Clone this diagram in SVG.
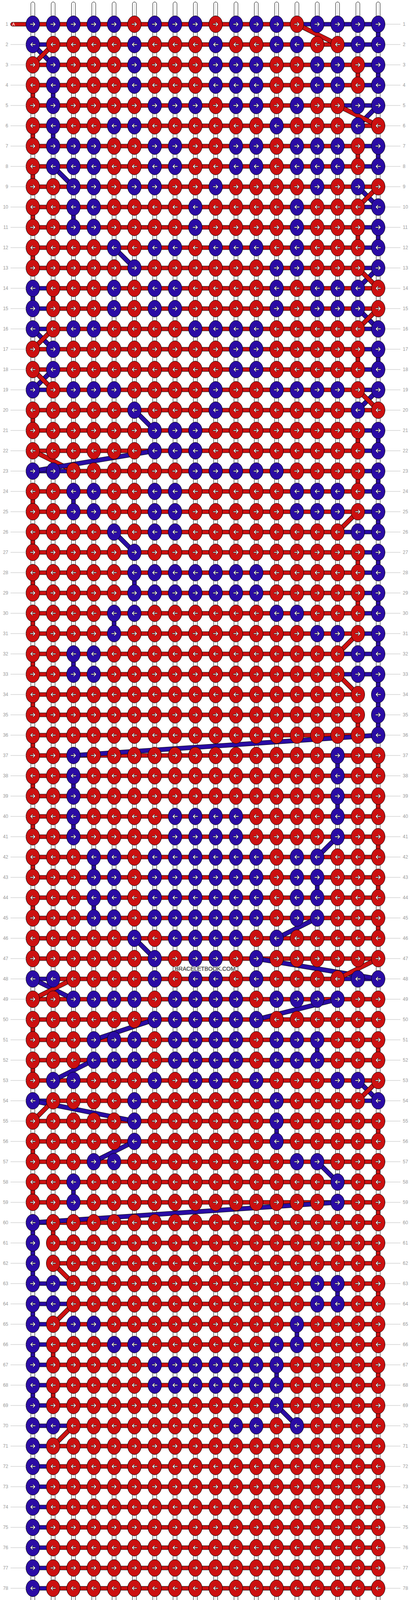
<svg xmlns="http://www.w3.org/2000/svg" width="1052" height="4960" viewBox="0 0 1052 4960">
<style>
.s{fill:#fff;stroke:#000;stroke-width:1}
.cl{fill:none;stroke:#c4c4c4;stroke-width:1}
.r{fill:#cc1010;stroke:#000;stroke-width:1}
.b{fill:#2a0ba5;stroke:#000;stroke-width:1}
.o{fill:none;stroke:#000;stroke-width:12}
.lr{fill:none;stroke:#cc1010;stroke-width:10}
.lb{fill:none;stroke:#2a0ba5;stroke-width:10}
.w{fill:#fff;stroke:#000;stroke-width:.8}
.t{font-family:"Liberation Sans",Arial,sans-serif;font-size:12px;fill:#9a9a9a}
.gl{fill:none;stroke:#bbb;stroke-width:1}
</style>
<defs>
<path id="ar" class="w" d="M-7-1.3H2.5L-.5-4.2 1.2-5.8 6.8 0 1.2 5.8-.5 4.2 2.5 1.3H-7Z"/>
<g id="a"><ellipse class="r" rx="17.5" ry="21.5"/><use href="#ar"/></g>
<g id="b"><ellipse class="b" rx="17.5" ry="21.5"/><use href="#ar"/></g>
<g id="c"><ellipse class="r" rx="17.5" ry="21.5"/><use href="#ar" transform="scale(-1,1)"/></g>
<g id="d"><ellipse class="b" rx="17.5" ry="21.5"/><use href="#ar" transform="scale(-1,1)"/></g>
</defs>
<rect width="1052" height="4960" fill="#fff"/>
<g id="strands">
<rect class="s" x="79" y="5" width="10" height="4949" rx="5"/><rect class="s" x="131" y="5" width="10" height="4949" rx="5"/><rect class="s" x="183" y="5" width="10" height="4949" rx="5"/><rect class="s" x="235" y="5" width="10" height="4949" rx="5"/><rect class="s" x="287" y="5" width="10" height="4949" rx="5"/><rect class="s" x="339" y="5" width="10" height="4949" rx="5"/><rect class="s" x="391" y="5" width="10" height="4949" rx="5"/><rect class="s" x="443" y="5" width="10" height="4949" rx="5"/><rect class="s" x="495" y="5" width="10" height="4949" rx="5"/><rect class="s" x="547" y="5" width="10" height="4949" rx="5"/><rect class="s" x="599" y="5" width="10" height="4949" rx="5"/><rect class="s" x="651" y="5" width="10" height="4949" rx="5"/><rect class="s" x="703" y="5" width="10" height="4949" rx="5"/><rect class="s" x="755" y="5" width="10" height="4949" rx="5"/><rect class="s" x="807" y="5" width="10" height="4949" rx="5"/><rect class="s" x="859" y="5" width="10" height="4949" rx="5"/><rect class="s" x="911" y="5" width="10" height="4949" rx="5"/><rect class="s" x="963" y="5" width="10" height="4949" rx="5"/>
<path class="cl" d="M84 9V4950M136 9V4950M188 9V4950M240 9V4950M292 9V4950M344 9V4950M396 9V4950M448 9V4950M500 9V4950M552 9V4950M604 9V4950M656 9V4950M708 9V4950M760 9V4950M812 9V4950M864 9V4950M916 9V4950M968 9V4950"/>
</g>
<g id="connectors">
<g class="r">
<rect x="911" y="185" width="10" height="14"/><rect x="79" y="237" width="10" height="14"/><rect x="79" y="341" width="10" height="14"/><rect x="911" y="393" width="10" height="14"/><rect x="79" y="445" width="10" height="14"/><rect x="79" y="549" width="10" height="14"/><rect x="911" y="601" width="10" height="14"/><rect x="79" y="653" width="10" height="14"/><rect x="131" y="757" width="10" height="14"/><rect x="911" y="913" width="10" height="14"/><rect x="79" y="1069" width="10" height="14"/><rect x="911" y="1121" width="10" height="14"/><rect x="911" y="1225" width="10" height="14"/><rect x="79" y="1277" width="10" height="14"/><rect x="79" y="1381" width="10" height="14"/><rect x="911" y="1433" width="10" height="14"/><rect x="79" y="1485" width="10" height="14"/><rect x="911" y="1537" width="10" height="14"/><rect x="79" y="1589" width="10" height="14"/><rect x="79" y="1693" width="10" height="14"/><rect x="79" y="1797" width="10" height="14"/><rect x="911" y="1849" width="10" height="14"/><rect x="79" y="1901" width="10" height="14"/><rect x="963" y="1953" width="10" height="14"/><rect x="79" y="2005" width="10" height="14"/><rect x="963" y="2057" width="10" height="14"/><rect x="79" y="2109" width="10" height="14"/><rect x="963" y="2161" width="10" height="14"/><rect x="79" y="2213" width="10" height="14"/><rect x="963" y="2265" width="10" height="14"/><rect x="79" y="2317" width="10" height="14"/><rect x="963" y="2369" width="10" height="14"/><rect x="79" y="2421" width="10" height="14"/><rect x="79" y="2629" width="10" height="14"/><rect x="963" y="2681" width="10" height="14"/><rect x="79" y="2733" width="10" height="14"/><rect x="963" y="2889" width="10" height="14"/><rect x="79" y="2941" width="10" height="14"/><rect x="963" y="2993" width="10" height="14"/><rect x="79" y="3045" width="10" height="14"/><rect x="963" y="3097" width="10" height="14"/><rect x="131" y="3149" width="10" height="14"/><rect x="963" y="3201" width="10" height="14"/><rect x="963" y="3305" width="10" height="14"/><rect x="963" y="3409" width="10" height="14"/><rect x="131" y="3461" width="10" height="14"/><rect x="963" y="3513" width="10" height="14"/><rect x="131" y="3565" width="10" height="14"/><rect x="963" y="3617" width="10" height="14"/><rect x="963" y="4761" width="10" height="14"/>
</g>
<g class="b">
<rect x="963" y="81" width="10" height="14"/><rect x="963" y="185" width="10" height="14"/><rect x="131" y="237" width="10" height="14"/><rect x="131" y="341" width="10" height="14"/><rect x="963" y="393" width="10" height="14"/><rect x="183" y="549" width="10" height="14"/><rect x="963" y="601" width="10" height="14"/><rect x="79" y="757" width="10" height="14"/><rect x="963" y="913" width="10" height="14"/><rect x="963" y="1121" width="10" height="14"/><rect x="963" y="1225" width="10" height="14"/><rect x="183" y="1277" width="10" height="14"/><rect x="963" y="1329" width="10" height="14"/><rect x="963" y="1433" width="10" height="14"/><rect x="339" y="1485" width="10" height="14"/><rect x="963" y="1537" width="10" height="14"/><rect x="287" y="1589" width="10" height="14"/><rect x="963" y="1641" width="10" height="14"/><rect x="183" y="1693" width="10" height="14"/><rect x="963" y="1745" width="10" height="14"/><rect x="963" y="1797" width="10" height="14"/><rect x="963" y="1849" width="10" height="14"/><rect x="859" y="1953" width="10" height="14"/><rect x="183" y="2005" width="10" height="14"/><rect x="859" y="2057" width="10" height="14"/><rect x="183" y="2109" width="10" height="14"/><rect x="235" y="2213" width="10" height="14"/><rect x="807" y="2265" width="10" height="14"/><rect x="235" y="2317" width="10" height="14"/><rect x="807" y="2681" width="10" height="14"/><rect x="703" y="2889" width="10" height="14"/><rect x="183" y="3045" width="10" height="14"/><rect x="79" y="3149" width="10" height="14"/><rect x="79" y="3201" width="10" height="14"/><rect x="79" y="3253" width="10" height="14"/><rect x="859" y="3305" width="10" height="14"/><rect x="79" y="3357" width="10" height="14"/><rect x="755" y="3409" width="10" height="14"/><rect x="79" y="3461" width="10" height="14"/><rect x="703" y="3513" width="10" height="14"/><rect x="79" y="3565" width="10" height="14"/><rect x="911" y="4761" width="10" height="14"/><rect x="79" y="4813" width="10" height="14"/><rect x="963" y="4865" width="10" height="14"/>
</g>
<g class="r">
<rect x="27" y="57" width="60" height="10" rx="5"/><rect x="27" y="4893" width="60" height="10" rx="5"/>
<rect x="84" y="57" width="676" height="10"/>
<rect x="136" y="109" width="728" height="10"/>
<rect x="84" y="161" width="832" height="10"/>
<rect x="84" y="213" width="832" height="10"/>
<rect x="84" y="265" width="780" height="10"/>
<rect x="84" y="317" width="884" height="10"/>
<rect x="84" y="369" width="832" height="10"/>
<rect x="84" y="421" width="832" height="10"/>
<rect x="84" y="473" width="884" height="10"/>
<rect x="84" y="525" width="832" height="10"/>
<rect x="84" y="577" width="832" height="10"/>
<rect x="84" y="629" width="832" height="10"/>
<rect x="84" y="681" width="832" height="10"/>
<rect x="136" y="733" width="832" height="10"/>
<rect x="136" y="785" width="832" height="10"/>
<rect x="136" y="837" width="780" height="10"/>
<rect x="84" y="889" width="832" height="10"/>
<rect x="84" y="941" width="832" height="10"/>
<rect x="136" y="993" width="780" height="10"/>
<rect x="84" y="1045" width="884" height="10"/>
<rect x="84" y="1097" width="832" height="10"/>
<rect x="84" y="1149" width="832" height="10"/>
<rect x="188" y="1201" width="728" height="10"/>
<rect x="84" y="1253" width="832" height="10"/>
<rect x="84" y="1305" width="832" height="10"/>
<rect x="84" y="1357" width="780" height="10"/>
<rect x="84" y="1409" width="832" height="10"/>
<rect x="84" y="1461" width="832" height="10"/>
<rect x="84" y="1513" width="832" height="10"/>
<rect x="84" y="1565" width="832" height="10"/>
<rect x="84" y="1617" width="832" height="10"/>
<rect x="84" y="1669" width="780" height="10"/>
<rect x="84" y="1721" width="780" height="10"/>
<rect x="84" y="1773" width="832" height="10"/>
<rect x="84" y="1825" width="832" height="10"/>
<rect x="84" y="1877" width="832" height="10"/>
<rect x="84" y="1929" width="884" height="10"/>
<rect x="84" y="1981" width="884" height="10"/>
<rect x="84" y="2033" width="884" height="10"/>
<rect x="84" y="2085" width="884" height="10"/>
<rect x="84" y="2137" width="884" height="10"/>
<rect x="84" y="2189" width="884" height="10"/>
<rect x="84" y="2241" width="884" height="10"/>
<rect x="84" y="2293" width="884" height="10"/>
<rect x="84" y="2345" width="884" height="10"/>
<rect x="84" y="2397" width="884" height="10"/>
<rect x="84" y="2449" width="884" height="10"/>
<rect x="136" y="2501" width="728" height="10"/>
<rect x="84" y="2553" width="884" height="10"/>
<rect x="84" y="2605" width="884" height="10"/>
<rect x="84" y="2657" width="884" height="10"/>
<rect x="84" y="2709" width="884" height="10"/>
<rect x="84" y="2761" width="884" height="10"/>
<rect x="136" y="2813" width="780" height="10"/>
<rect x="84" y="2865" width="884" height="10"/>
<rect x="84" y="2917" width="884" height="10"/>
<rect x="84" y="2969" width="884" height="10"/>
<rect x="84" y="3021" width="884" height="10"/>
<rect x="84" y="3073" width="884" height="10"/>
<rect x="136" y="3125" width="832" height="10"/>
<rect x="136" y="3177" width="832" height="10"/>
<rect x="136" y="3229" width="832" height="10"/>
<rect x="188" y="3281" width="780" height="10"/>
<rect x="188" y="3333" width="780" height="10"/>
<rect x="136" y="3385" width="832" height="10"/>
<rect x="136" y="3437" width="832" height="10"/>
<rect x="136" y="3489" width="832" height="10"/>
<rect x="136" y="3541" width="832" height="10"/>
<rect x="136" y="3593" width="832" height="10"/>
<rect x="188" y="3645" width="780" height="10"/>
<rect x="136" y="3697" width="832" height="10"/>
<rect x="136" y="3749" width="832" height="10"/>
<rect x="136" y="3801" width="832" height="10"/>
<rect x="136" y="3853" width="832" height="10"/>
<rect x="136" y="3905" width="832" height="10"/>
<rect x="136" y="3957" width="832" height="10"/>
<rect x="136" y="4009" width="832" height="10"/>
<rect x="136" y="4061" width="832" height="10"/>
<rect x="136" y="4113" width="832" height="10"/>
<rect x="136" y="4165" width="832" height="10"/>
<rect x="136" y="4217" width="832" height="10"/>
<rect x="136" y="4269" width="832" height="10"/>
<rect x="136" y="4321" width="832" height="10"/>
<rect x="136" y="4373" width="832" height="10"/>
<rect x="136" y="4425" width="832" height="10"/>
<rect x="136" y="4477" width="832" height="10"/>
<rect x="136" y="4529" width="832" height="10"/>
<rect x="136" y="4581" width="832" height="10"/>
<rect x="136" y="4633" width="832" height="10"/>
<rect x="136" y="4685" width="832" height="10"/>
<rect x="136" y="4737" width="832" height="10"/>
<rect x="136" y="4789" width="832" height="10"/>
<rect x="188" y="4841" width="728" height="10"/>
<rect x="84" y="4893" width="624" height="10"/>
</g>
<g class="b">
<rect x="760" y="57" width="208" height="10"/>
<rect x="84" y="109" width="52" height="10"/><rect x="864" y="109" width="104" height="10"/>
<rect x="916" y="161" width="52" height="10"/>
<rect x="916" y="213" width="52" height="10"/>
<rect x="864" y="265" width="104" height="10"/>
<rect x="916" y="369" width="52" height="10"/>
<rect x="916" y="421" width="52" height="10"/>
<rect x="916" y="525" width="52" height="10"/>
<rect x="916" y="577" width="52" height="10"/>
<rect x="916" y="629" width="52" height="10"/>
<rect x="916" y="681" width="52" height="10"/>
<rect x="84" y="733" width="52" height="10"/>
<rect x="84" y="785" width="52" height="10"/>
<rect x="84" y="837" width="52" height="10"/><rect x="916" y="837" width="52" height="10"/>
<rect x="916" y="889" width="52" height="10"/>
<rect x="916" y="941" width="52" height="10"/>
<rect x="84" y="993" width="52" height="10"/><rect x="916" y="993" width="52" height="10"/>
<rect x="916" y="1097" width="52" height="10"/>
<rect x="916" y="1149" width="52" height="10"/>
<rect x="84" y="1201" width="104" height="10"/><rect x="916" y="1201" width="52" height="10"/>
<rect x="916" y="1253" width="52" height="10"/>
<rect x="916" y="1305" width="52" height="10"/>
<rect x="864" y="1357" width="104" height="10"/>
<rect x="916" y="1409" width="52" height="10"/>
<rect x="916" y="1461" width="52" height="10"/>
<rect x="916" y="1513" width="52" height="10"/>
<rect x="916" y="1565" width="52" height="10"/>
<rect x="916" y="1617" width="52" height="10"/>
<rect x="864" y="1669" width="104" height="10"/>
<rect x="864" y="1721" width="104" height="10"/>
<rect x="84" y="2501" width="52" height="10"/><rect x="864" y="2501" width="104" height="10"/>
<rect x="84" y="2813" width="52" height="10"/><rect x="916" y="2813" width="52" height="10"/>
<rect x="84" y="3125" width="52" height="10"/>
<rect x="84" y="3281" width="104" height="10"/>
<rect x="84" y="3333" width="104" height="10"/>
<rect x="84" y="3385" width="52" height="10"/>
<rect x="84" y="3437" width="52" height="10"/>
<rect x="84" y="3489" width="52" height="10"/>
<rect x="84" y="3541" width="52" height="10"/>
<rect x="84" y="3593" width="52" height="10"/>
<rect x="84" y="3645" width="104" height="10"/>
<rect x="84" y="3697" width="52" height="10"/><rect x="84" y="3749" width="52" height="10"/><rect x="84" y="3801" width="52" height="10"/><rect x="84" y="3853" width="52" height="10"/><rect x="84" y="3905" width="52" height="10"/><rect x="84" y="3957" width="52" height="10"/><rect x="84" y="4009" width="52" height="10"/><rect x="84" y="4061" width="52" height="10"/><rect x="84" y="4113" width="52" height="10"/><rect x="84" y="4165" width="52" height="10"/><rect x="84" y="4217" width="52" height="10"/><rect x="84" y="4269" width="52" height="10"/><rect x="84" y="4321" width="52" height="10"/><rect x="84" y="4373" width="52" height="10"/><rect x="84" y="4425" width="52" height="10"/><rect x="84" y="4477" width="52" height="10"/><rect x="84" y="4529" width="52" height="10"/><rect x="84" y="4581" width="52" height="10"/><rect x="84" y="4633" width="52" height="10"/><rect x="84" y="4685" width="52" height="10"/><rect x="84" y="4737" width="52" height="10"/><rect x="84" y="4789" width="52" height="10"/>
<rect x="84" y="4841" width="104" height="10"/><rect x="916" y="4841" width="52" height="10"/>
<rect x="708" y="4893" width="260" height="10"/>
</g>
<g id="diagonals">
<path class="o" d="M760 62L864 114"/><path class="lr" d="M760 62L864 114"/>
<path class="o" d="M84 114L136 166"/><path class="lb" d="M84 114L136 166"/>
<path class="o" d="M136 114L84 166"/><path class="lr" d="M136 114L84 166"/>
<path class="o" d="M968 270L916 322"/><path class="lb" d="M968 270L916 322"/>
<path class="o" d="M864 270L968 322"/><path class="lr" d="M864 270L968 322"/>
<path class="o" d="M136 426L188 478"/><path class="lb" d="M136 426L188 478"/>
<path class="o" d="M916 478L968 530"/><path class="lb" d="M916 478L968 530"/>
<path class="o" d="M968 478L916 530"/><path class="lr" d="M968 478L916 530"/>
<path class="o" d="M292 634L344 686"/><path class="lb" d="M292 634L344 686"/>
<path class="o" d="M968 686L916 738"/><path class="lb" d="M968 686L916 738"/>
<path class="o" d="M916 686L968 738"/><path class="lr" d="M916 686L968 738"/>
<path class="o" d="M916 790L968 842"/><path class="lb" d="M916 790L968 842"/>
<path class="o" d="M968 790L916 842"/><path class="lr" d="M968 790L916 842"/>
<path class="o" d="M84 842L136 894"/><path class="lb" d="M84 842L136 894"/>
<path class="o" d="M136 842L84 894"/><path class="lr" d="M136 842L84 894"/>
<path class="o" d="M136 946L84 998"/><path class="lb" d="M136 946L84 998"/>
<path class="o" d="M84 946L136 998"/><path class="lr" d="M84 946L136 998"/>
<path class="o" d="M968 998L916 1050"/><path class="lb" d="M968 998L916 1050"/>
<path class="o" d="M916 998L968 1050"/><path class="lr" d="M916 998L968 1050"/>
<path class="o" d="M344 1050L396 1102"/><path class="lb" d="M344 1050L396 1102"/>
<path class="o" d="M84 1154L188 1206"/><path class="lr" d="M84 1154L188 1206"/>
<path class="o" d="M396 1154L84 1206"/><path class="lb" d="M396 1154L84 1206"/>
<path class="o" d="M916 1310L864 1362"/><path class="lr" d="M916 1310L864 1362"/>
<path class="o" d="M292 1362L344 1414"/><path class="lb" d="M292 1362L344 1414"/>
<path class="o" d="M916 1622L864 1674"/><path class="lr" d="M916 1622L864 1674"/>
<path class="o" d="M864 1726L916 1778"/><path class="lr" d="M864 1726L916 1778"/>
<path class="o" d="M968 1882L188 1934"/><path class="lb" d="M968 1882L188 1934"/>
<path class="o" d="M864 2142L812 2194"/><path class="lb" d="M864 2142L812 2194"/>
<path class="o" d="M812 2350L708 2402"/><path class="lb" d="M812 2350L708 2402"/>
<path class="o" d="M344 2402L396 2454"/><path class="lb" d="M344 2402L396 2454"/>
<path class="o" d="M656 2454L968 2506"/><path class="lb" d="M656 2454L968 2506"/>
<path class="o" d="M968 2454L864 2506"/><path class="lr" d="M968 2454L864 2506"/>
<path class="o" d="M84 2506L188 2558"/><path class="lb" d="M84 2506L188 2558"/>
<path class="o" d="M188 2506L84 2558"/><path class="lr" d="M188 2506L84 2558"/>
<path class="o" d="M864 2558L656 2610"/><path class="lb" d="M864 2558L656 2610"/>
<path class="o" d="M396 2610L240 2662"/><path class="lb" d="M396 2610L240 2662"/>
<path class="o" d="M240 2714L136 2766"/><path class="lb" d="M240 2714L136 2766"/>
<path class="o" d="M916 2766L968 2818"/><path class="lb" d="M916 2766L968 2818"/>
<path class="o" d="M968 2766L916 2818"/><path class="lr" d="M968 2766L916 2818"/>
<path class="o" d="M84 2818L344 2870"/><path class="lb" d="M84 2818L344 2870"/>
<path class="o" d="M136 2818L84 2870"/><path class="lr" d="M136 2818L84 2870"/>
<path class="o" d="M344 2922L240 2974"/><path class="lb" d="M344 2922L240 2974"/>
<path class="o" d="M812 2974L864 3026"/><path class="lb" d="M812 2974L864 3026"/>
<path class="o" d="M864 3078L84 3130"/><path class="lb" d="M864 3078L84 3130"/>
<path class="o" d="M136 3234L188 3286"/><path class="lr" d="M136 3234L188 3286"/>
<path class="o" d="M188 3338L136 3390"/><path class="lr" d="M188 3338L136 3390"/>
<path class="o" d="M708 3598L760 3650"/><path class="lb" d="M708 3598L760 3650"/>
<path class="o" d="M188 3650L136 3702"/><path class="lr" d="M188 3650L136 3702"/>
<path class="o" d="M136 4794L188 4846"/><path class="lr" d="M136 4794L188 4846"/>
<path class="o" d="M916 4846L708 4898"/><path class="lr" d="M916 4846L708 4898"/>
</g>
</g>
<g id="knots">
<g id="row1" transform="translate(0,62)"><use href="#b" x="84"/><use href="#b" x="136"/><use href="#b" x="188"/><use href="#b" x="240"/><use href="#b" x="292"/><use href="#a" x="344"/><use href="#b" x="396"/><use href="#b" x="448"/><use href="#b" x="500"/><use href="#a" x="552"/><use href="#b" x="604"/><use href="#b" x="656"/><use href="#b" x="708"/><use href="#a" x="760"/><use href="#b" x="812"/><use href="#b" x="864"/><use href="#b" x="916"/><use href="#b" x="968"/></g>
<g id="row2" transform="translate(0,114)"><use href="#d" x="84"/><use href="#c" x="136"/><use href="#c" x="188"/><use href="#c" x="240"/><use href="#c" x="292"/><use href="#d" x="344"/><use href="#c" x="396"/><use href="#c" x="448"/><use href="#c" x="500"/><use href="#d" x="552"/><use href="#c" x="604"/><use href="#c" x="656"/><use href="#d" x="708"/><use href="#d" x="760"/><use href="#c" x="812"/><use href="#c" x="864"/><use href="#d" x="916"/><use href="#d" x="968"/></g>
<g id="row3" transform="translate(0,166)"><use href="#a" x="84"/><use href="#b" x="136"/><use href="#a" x="188"/><use href="#a" x="240"/><use href="#a" x="292"/><use href="#b" x="344"/><use href="#a" x="396"/><use href="#a" x="448"/><use href="#a" x="500"/><use href="#b" x="552"/><use href="#b" x="604"/><use href="#b" x="656"/><use href="#a" x="708"/><use href="#a" x="760"/><use href="#b" x="812"/><use href="#b" x="864"/><use href="#a" x="916"/><use href="#b" x="968"/></g>
<g id="row4" transform="translate(0,218)"><use href="#c" x="84"/><use href="#d" x="136"/><use href="#c" x="188"/><use href="#c" x="240"/><use href="#c" x="292"/><use href="#d" x="344"/><use href="#c" x="396"/><use href="#c" x="448"/><use href="#c" x="500"/><use href="#d" x="552"/><use href="#d" x="604"/><use href="#d" x="656"/><use href="#c" x="708"/><use href="#c" x="760"/><use href="#d" x="812"/><use href="#d" x="864"/><use href="#c" x="916"/><use href="#d" x="968"/></g>
<g id="row5" transform="translate(0,270)"><use href="#a" x="84"/><use href="#b" x="136"/><use href="#a" x="188"/><use href="#a" x="240"/><use href="#a" x="292"/><use href="#a" x="344"/><use href="#b" x="396"/><use href="#b" x="448"/><use href="#b" x="500"/><use href="#a" x="552"/><use href="#b" x="604"/><use href="#b" x="656"/><use href="#a" x="708"/><use href="#b" x="760"/><use href="#a" x="812"/><use href="#a" x="864"/><use href="#b" x="916"/><use href="#b" x="968"/></g>
<g id="row6" transform="translate(0,322)"><use href="#c" x="84"/><use href="#d" x="136"/><use href="#c" x="188"/><use href="#c" x="240"/><use href="#d" x="292"/><use href="#d" x="344"/><use href="#c" x="396"/><use href="#c" x="448"/><use href="#c" x="500"/><use href="#c" x="552"/><use href="#c" x="604"/><use href="#c" x="656"/><use href="#d" x="708"/><use href="#c" x="760"/><use href="#c" x="812"/><use href="#c" x="864"/><use href="#d" x="916"/><use href="#c" x="968"/></g>
<g id="row7" transform="translate(0,374)"><use href="#a" x="84"/><use href="#b" x="136"/><use href="#b" x="188"/><use href="#b" x="240"/><use href="#a" x="292"/><use href="#a" x="344"/><use href="#b" x="396"/><use href="#b" x="448"/><use href="#a" x="500"/><use href="#a" x="552"/><use href="#b" x="604"/><use href="#b" x="656"/><use href="#a" x="708"/><use href="#b" x="760"/><use href="#b" x="812"/><use href="#b" x="864"/><use href="#a" x="916"/><use href="#b" x="968"/></g>
<g id="row8" transform="translate(0,426)"><use href="#c" x="84"/><use href="#d" x="136"/><use href="#d" x="188"/><use href="#d" x="240"/><use href="#c" x="292"/><use href="#c" x="344"/><use href="#d" x="396"/><use href="#d" x="448"/><use href="#c" x="500"/><use href="#c" x="552"/><use href="#d" x="604"/><use href="#d" x="656"/><use href="#c" x="708"/><use href="#d" x="760"/><use href="#d" x="812"/><use href="#d" x="864"/><use href="#c" x="916"/><use href="#d" x="968"/></g>
<g id="row9" transform="translate(0,478)"><use href="#a" x="84"/><use href="#a" x="136"/><use href="#b" x="188"/><use href="#b" x="240"/><use href="#a" x="292"/><use href="#b" x="344"/><use href="#b" x="396"/><use href="#a" x="448"/><use href="#a" x="500"/><use href="#b" x="552"/><use href="#a" x="604"/><use href="#a" x="656"/><use href="#a" x="708"/><use href="#a" x="760"/><use href="#b" x="812"/><use href="#a" x="864"/><use href="#b" x="916"/><use href="#a" x="968"/></g>
<g id="row10" transform="translate(0,530)"><use href="#c" x="84"/><use href="#c" x="136"/><use href="#d" x="188"/><use href="#d" x="240"/><use href="#c" x="292"/><use href="#c" x="344"/><use href="#c" x="396"/><use href="#c" x="448"/><use href="#d" x="500"/><use href="#c" x="552"/><use href="#c" x="604"/><use href="#c" x="656"/><use href="#c" x="708"/><use href="#d" x="760"/><use href="#c" x="812"/><use href="#c" x="864"/><use href="#c" x="916"/><use href="#d" x="968"/></g>
<g id="row11" transform="translate(0,582)"><use href="#a" x="84"/><use href="#a" x="136"/><use href="#b" x="188"/><use href="#b" x="240"/><use href="#a" x="292"/><use href="#a" x="344"/><use href="#a" x="396"/><use href="#a" x="448"/><use href="#b" x="500"/><use href="#a" x="552"/><use href="#a" x="604"/><use href="#a" x="656"/><use href="#a" x="708"/><use href="#b" x="760"/><use href="#a" x="812"/><use href="#a" x="864"/><use href="#a" x="916"/><use href="#b" x="968"/></g>
<g id="row12" transform="translate(0,634)"><use href="#c" x="84"/><use href="#c" x="136"/><use href="#c" x="188"/><use href="#c" x="240"/><use href="#d" x="292"/><use href="#c" x="344"/><use href="#d" x="396"/><use href="#d" x="448"/><use href="#c" x="500"/><use href="#d" x="552"/><use href="#d" x="604"/><use href="#d" x="656"/><use href="#c" x="708"/><use href="#d" x="760"/><use href="#c" x="812"/><use href="#c" x="864"/><use href="#c" x="916"/><use href="#d" x="968"/></g>
<g id="row13" transform="translate(0,686)"><use href="#a" x="84"/><use href="#a" x="136"/><use href="#a" x="188"/><use href="#a" x="240"/><use href="#a" x="292"/><use href="#b" x="344"/><use href="#a" x="396"/><use href="#a" x="448"/><use href="#a" x="500"/><use href="#a" x="552"/><use href="#a" x="604"/><use href="#a" x="656"/><use href="#b" x="708"/><use href="#b" x="760"/><use href="#a" x="812"/><use href="#a" x="864"/><use href="#a" x="916"/><use href="#b" x="968"/></g>
<g id="row14" transform="translate(0,738)"><use href="#d" x="84"/><use href="#c" x="136"/><use href="#c" x="188"/><use href="#c" x="240"/><use href="#d" x="292"/><use href="#c" x="344"/><use href="#d" x="396"/><use href="#d" x="448"/><use href="#c" x="500"/><use href="#c" x="552"/><use href="#c" x="604"/><use href="#c" x="656"/><use href="#d" x="708"/><use href="#c" x="760"/><use href="#d" x="812"/><use href="#d" x="864"/><use href="#d" x="916"/><use href="#c" x="968"/></g>
<g id="row15" transform="translate(0,790)"><use href="#b" x="84"/><use href="#a" x="136"/><use href="#a" x="188"/><use href="#a" x="240"/><use href="#b" x="292"/><use href="#a" x="344"/><use href="#b" x="396"/><use href="#b" x="448"/><use href="#a" x="500"/><use href="#a" x="552"/><use href="#a" x="604"/><use href="#a" x="656"/><use href="#b" x="708"/><use href="#a" x="760"/><use href="#b" x="812"/><use href="#b" x="864"/><use href="#b" x="916"/><use href="#a" x="968"/></g>
<g id="row16" transform="translate(0,842)"><use href="#d" x="84"/><use href="#c" x="136"/><use href="#d" x="188"/><use href="#d" x="240"/><use href="#c" x="292"/><use href="#c" x="344"/><use href="#c" x="396"/><use href="#c" x="448"/><use href="#d" x="500"/><use href="#d" x="552"/><use href="#d" x="604"/><use href="#d" x="656"/><use href="#c" x="708"/><use href="#c" x="760"/><use href="#c" x="812"/><use href="#c" x="864"/><use href="#c" x="916"/><use href="#d" x="968"/></g>
<g id="row17" transform="translate(0,894)"><use href="#a" x="84"/><use href="#b" x="136"/><use href="#a" x="188"/><use href="#a" x="240"/><use href="#a" x="292"/><use href="#a" x="344"/><use href="#a" x="396"/><use href="#a" x="448"/><use href="#a" x="500"/><use href="#a" x="552"/><use href="#b" x="604"/><use href="#b" x="656"/><use href="#a" x="708"/><use href="#a" x="760"/><use href="#a" x="812"/><use href="#a" x="864"/><use href="#a" x="916"/><use href="#b" x="968"/></g>
<g id="row18" transform="translate(0,946)"><use href="#c" x="84"/><use href="#d" x="136"/><use href="#c" x="188"/><use href="#c" x="240"/><use href="#c" x="292"/><use href="#c" x="344"/><use href="#c" x="396"/><use href="#c" x="448"/><use href="#c" x="500"/><use href="#c" x="552"/><use href="#d" x="604"/><use href="#d" x="656"/><use href="#c" x="708"/><use href="#c" x="760"/><use href="#c" x="812"/><use href="#c" x="864"/><use href="#c" x="916"/><use href="#d" x="968"/></g>
<g id="row19" transform="translate(0,998)"><use href="#b" x="84"/><use href="#a" x="136"/><use href="#b" x="188"/><use href="#b" x="240"/><use href="#b" x="292"/><use href="#a" x="344"/><use href="#a" x="396"/><use href="#a" x="448"/><use href="#a" x="500"/><use href="#b" x="552"/><use href="#a" x="604"/><use href="#a" x="656"/><use href="#b" x="708"/><use href="#b" x="760"/><use href="#b" x="812"/><use href="#b" x="864"/><use href="#a" x="916"/><use href="#b" x="968"/></g>
<g id="row20" transform="translate(0,1050)"><use href="#c" x="84"/><use href="#c" x="136"/><use href="#c" x="188"/><use href="#c" x="240"/><use href="#c" x="292"/><use href="#d" x="344"/><use href="#c" x="396"/><use href="#c" x="448"/><use href="#c" x="500"/><use href="#d" x="552"/><use href="#c" x="604"/><use href="#c" x="656"/><use href="#c" x="708"/><use href="#c" x="760"/><use href="#c" x="812"/><use href="#c" x="864"/><use href="#d" x="916"/><use href="#c" x="968"/></g>
<g id="row21" transform="translate(0,1102)"><use href="#a" x="84"/><use href="#a" x="136"/><use href="#a" x="188"/><use href="#a" x="240"/><use href="#a" x="292"/><use href="#a" x="344"/><use href="#b" x="396"/><use href="#b" x="448"/><use href="#b" x="500"/><use href="#a" x="552"/><use href="#a" x="604"/><use href="#a" x="656"/><use href="#a" x="708"/><use href="#a" x="760"/><use href="#a" x="812"/><use href="#a" x="864"/><use href="#a" x="916"/><use href="#b" x="968"/></g>
<g id="row22" transform="translate(0,1154)"><use href="#c" x="84"/><use href="#c" x="136"/><use href="#c" x="188"/><use href="#c" x="240"/><use href="#c" x="292"/><use href="#c" x="344"/><use href="#d" x="396"/><use href="#d" x="448"/><use href="#d" x="500"/><use href="#c" x="552"/><use href="#c" x="604"/><use href="#c" x="656"/><use href="#c" x="708"/><use href="#c" x="760"/><use href="#c" x="812"/><use href="#c" x="864"/><use href="#c" x="916"/><use href="#d" x="968"/></g>
<g id="row23" transform="translate(0,1206)"><use href="#b" x="84"/><use href="#b" x="136"/><use href="#a" x="188"/><use href="#a" x="240"/><use href="#a" x="292"/><use href="#a" x="344"/><use href="#a" x="396"/><use href="#a" x="448"/><use href="#b" x="500"/><use href="#b" x="552"/><use href="#b" x="604"/><use href="#b" x="656"/><use href="#b" x="708"/><use href="#a" x="760"/><use href="#a" x="812"/><use href="#a" x="864"/><use href="#a" x="916"/><use href="#b" x="968"/></g>
<g id="row24" transform="translate(0,1258)"><use href="#c" x="84"/><use href="#c" x="136"/><use href="#d" x="188"/><use href="#d" x="240"/><use href="#c" x="292"/><use href="#c" x="344"/><use href="#d" x="396"/><use href="#d" x="448"/><use href="#c" x="500"/><use href="#c" x="552"/><use href="#c" x="604"/><use href="#c" x="656"/><use href="#c" x="708"/><use href="#d" x="760"/><use href="#d" x="812"/><use href="#d" x="864"/><use href="#c" x="916"/><use href="#d" x="968"/></g>
<g id="row25" transform="translate(0,1310)"><use href="#a" x="84"/><use href="#a" x="136"/><use href="#b" x="188"/><use href="#b" x="240"/><use href="#a" x="292"/><use href="#a" x="344"/><use href="#b" x="396"/><use href="#b" x="448"/><use href="#a" x="500"/><use href="#a" x="552"/><use href="#a" x="604"/><use href="#a" x="656"/><use href="#a" x="708"/><use href="#b" x="760"/><use href="#b" x="812"/><use href="#b" x="864"/><use href="#a" x="916"/><use href="#b" x="968"/></g>
<g id="row26" transform="translate(0,1362)"><use href="#c" x="84"/><use href="#c" x="136"/><use href="#c" x="188"/><use href="#c" x="240"/><use href="#d" x="292"/><use href="#c" x="344"/><use href="#d" x="396"/><use href="#d" x="448"/><use href="#c" x="500"/><use href="#c" x="552"/><use href="#c" x="604"/><use href="#c" x="656"/><use href="#c" x="708"/><use href="#c" x="760"/><use href="#c" x="812"/><use href="#c" x="864"/><use href="#d" x="916"/><use href="#d" x="968"/></g>
<g id="row27" transform="translate(0,1414)"><use href="#a" x="84"/><use href="#a" x="136"/><use href="#a" x="188"/><use href="#a" x="240"/><use href="#a" x="292"/><use href="#b" x="344"/><use href="#a" x="396"/><use href="#a" x="448"/><use href="#a" x="500"/><use href="#a" x="552"/><use href="#a" x="604"/><use href="#a" x="656"/><use href="#a" x="708"/><use href="#a" x="760"/><use href="#a" x="812"/><use href="#a" x="864"/><use href="#a" x="916"/><use href="#b" x="968"/></g>
<g id="row28" transform="translate(0,1466)"><use href="#c" x="84"/><use href="#c" x="136"/><use href="#c" x="188"/><use href="#c" x="240"/><use href="#c" x="292"/><use href="#d" x="344"/><use href="#d" x="396"/><use href="#d" x="448"/><use href="#d" x="500"/><use href="#d" x="552"/><use href="#d" x="604"/><use href="#d" x="656"/><use href="#c" x="708"/><use href="#c" x="760"/><use href="#c" x="812"/><use href="#c" x="864"/><use href="#c" x="916"/><use href="#d" x="968"/></g>
<g id="row29" transform="translate(0,1518)"><use href="#a" x="84"/><use href="#a" x="136"/><use href="#a" x="188"/><use href="#a" x="240"/><use href="#a" x="292"/><use href="#b" x="344"/><use href="#b" x="396"/><use href="#b" x="448"/><use href="#b" x="500"/><use href="#b" x="552"/><use href="#b" x="604"/><use href="#b" x="656"/><use href="#a" x="708"/><use href="#a" x="760"/><use href="#a" x="812"/><use href="#a" x="864"/><use href="#a" x="916"/><use href="#b" x="968"/></g>
<g id="row30" transform="translate(0,1570)"><use href="#c" x="84"/><use href="#c" x="136"/><use href="#c" x="188"/><use href="#c" x="240"/><use href="#d" x="292"/><use href="#d" x="344"/><use href="#c" x="396"/><use href="#c" x="448"/><use href="#c" x="500"/><use href="#c" x="552"/><use href="#c" x="604"/><use href="#c" x="656"/><use href="#d" x="708"/><use href="#d" x="760"/><use href="#c" x="812"/><use href="#c" x="864"/><use href="#c" x="916"/><use href="#d" x="968"/></g>
<g id="row31" transform="translate(0,1622)"><use href="#a" x="84"/><use href="#a" x="136"/><use href="#a" x="188"/><use href="#a" x="240"/><use href="#b" x="292"/><use href="#a" x="344"/><use href="#a" x="396"/><use href="#a" x="448"/><use href="#a" x="500"/><use href="#a" x="552"/><use href="#a" x="604"/><use href="#a" x="656"/><use href="#a" x="708"/><use href="#a" x="760"/><use href="#b" x="812"/><use href="#b" x="864"/><use href="#a" x="916"/><use href="#b" x="968"/></g>
<g id="row32" transform="translate(0,1674)"><use href="#c" x="84"/><use href="#c" x="136"/><use href="#d" x="188"/><use href="#d" x="240"/><use href="#c" x="292"/><use href="#c" x="344"/><use href="#c" x="396"/><use href="#c" x="448"/><use href="#c" x="500"/><use href="#c" x="552"/><use href="#c" x="604"/><use href="#c" x="656"/><use href="#c" x="708"/><use href="#c" x="760"/><use href="#c" x="812"/><use href="#c" x="864"/><use href="#d" x="916"/><use href="#d" x="968"/></g>
<g id="row33" transform="translate(0,1726)"><use href="#a" x="84"/><use href="#a" x="136"/><use href="#b" x="188"/><use href="#b" x="240"/><use href="#a" x="292"/><use href="#a" x="344"/><use href="#a" x="396"/><use href="#a" x="448"/><use href="#a" x="500"/><use href="#a" x="552"/><use href="#a" x="604"/><use href="#a" x="656"/><use href="#a" x="708"/><use href="#a" x="760"/><use href="#a" x="812"/><use href="#a" x="864"/><use href="#b" x="916"/><use href="#b" x="968"/></g>
<g id="row34" transform="translate(0,1778)"><use href="#c" x="84"/><use href="#c" x="136"/><use href="#c" x="188"/><use href="#c" x="240"/><use href="#c" x="292"/><use href="#c" x="344"/><use href="#c" x="396"/><use href="#c" x="448"/><use href="#c" x="500"/><use href="#c" x="552"/><use href="#c" x="604"/><use href="#c" x="656"/><use href="#c" x="708"/><use href="#c" x="760"/><use href="#c" x="812"/><use href="#c" x="864"/><use href="#c" x="916"/><use href="#d" x="968"/></g>
<g id="row35" transform="translate(0,1830)"><use href="#a" x="84"/><use href="#a" x="136"/><use href="#a" x="188"/><use href="#a" x="240"/><use href="#a" x="292"/><use href="#a" x="344"/><use href="#a" x="396"/><use href="#a" x="448"/><use href="#a" x="500"/><use href="#a" x="552"/><use href="#a" x="604"/><use href="#a" x="656"/><use href="#a" x="708"/><use href="#a" x="760"/><use href="#a" x="812"/><use href="#a" x="864"/><use href="#a" x="916"/><use href="#b" x="968"/></g>
<g id="row36" transform="translate(0,1882)"><use href="#c" x="84"/><use href="#c" x="136"/><use href="#c" x="188"/><use href="#c" x="240"/><use href="#c" x="292"/><use href="#c" x="344"/><use href="#c" x="396"/><use href="#c" x="448"/><use href="#c" x="500"/><use href="#c" x="552"/><use href="#c" x="604"/><use href="#c" x="656"/><use href="#c" x="708"/><use href="#c" x="760"/><use href="#c" x="812"/><use href="#c" x="864"/><use href="#c" x="916"/><use href="#d" x="968"/></g>
<g id="row37" transform="translate(0,1934)"><use href="#a" x="84"/><use href="#a" x="136"/><use href="#b" x="188"/><use href="#a" x="240"/><use href="#a" x="292"/><use href="#a" x="344"/><use href="#a" x="396"/><use href="#a" x="448"/><use href="#a" x="500"/><use href="#a" x="552"/><use href="#a" x="604"/><use href="#a" x="656"/><use href="#a" x="708"/><use href="#a" x="760"/><use href="#a" x="812"/><use href="#b" x="864"/><use href="#a" x="916"/><use href="#a" x="968"/></g>
<g id="row38" transform="translate(0,1986)"><use href="#c" x="84"/><use href="#c" x="136"/><use href="#d" x="188"/><use href="#c" x="240"/><use href="#c" x="292"/><use href="#c" x="344"/><use href="#c" x="396"/><use href="#c" x="448"/><use href="#c" x="500"/><use href="#c" x="552"/><use href="#c" x="604"/><use href="#c" x="656"/><use href="#c" x="708"/><use href="#c" x="760"/><use href="#c" x="812"/><use href="#d" x="864"/><use href="#c" x="916"/><use href="#c" x="968"/></g>
<g id="row39" transform="translate(0,2038)"><use href="#a" x="84"/><use href="#a" x="136"/><use href="#b" x="188"/><use href="#a" x="240"/><use href="#a" x="292"/><use href="#a" x="344"/><use href="#a" x="396"/><use href="#a" x="448"/><use href="#a" x="500"/><use href="#a" x="552"/><use href="#a" x="604"/><use href="#a" x="656"/><use href="#a" x="708"/><use href="#a" x="760"/><use href="#a" x="812"/><use href="#b" x="864"/><use href="#a" x="916"/><use href="#a" x="968"/></g>
<g id="row40" transform="translate(0,2090)"><use href="#c" x="84"/><use href="#c" x="136"/><use href="#d" x="188"/><use href="#c" x="240"/><use href="#c" x="292"/><use href="#c" x="344"/><use href="#c" x="396"/><use href="#d" x="448"/><use href="#d" x="500"/><use href="#d" x="552"/><use href="#d" x="604"/><use href="#c" x="656"/><use href="#c" x="708"/><use href="#c" x="760"/><use href="#c" x="812"/><use href="#d" x="864"/><use href="#c" x="916"/><use href="#c" x="968"/></g>
<g id="row41" transform="translate(0,2142)"><use href="#a" x="84"/><use href="#a" x="136"/><use href="#b" x="188"/><use href="#a" x="240"/><use href="#a" x="292"/><use href="#a" x="344"/><use href="#a" x="396"/><use href="#b" x="448"/><use href="#b" x="500"/><use href="#b" x="552"/><use href="#b" x="604"/><use href="#a" x="656"/><use href="#a" x="708"/><use href="#a" x="760"/><use href="#a" x="812"/><use href="#b" x="864"/><use href="#a" x="916"/><use href="#a" x="968"/></g>
<g id="row42" transform="translate(0,2194)"><use href="#c" x="84"/><use href="#c" x="136"/><use href="#c" x="188"/><use href="#d" x="240"/><use href="#d" x="292"/><use href="#c" x="344"/><use href="#d" x="396"/><use href="#d" x="448"/><use href="#d" x="500"/><use href="#d" x="552"/><use href="#d" x="604"/><use href="#d" x="656"/><use href="#c" x="708"/><use href="#d" x="760"/><use href="#d" x="812"/><use href="#c" x="864"/><use href="#c" x="916"/><use href="#c" x="968"/></g>
<g id="row43" transform="translate(0,2246)"><use href="#a" x="84"/><use href="#a" x="136"/><use href="#a" x="188"/><use href="#b" x="240"/><use href="#b" x="292"/><use href="#a" x="344"/><use href="#b" x="396"/><use href="#b" x="448"/><use href="#b" x="500"/><use href="#b" x="552"/><use href="#b" x="604"/><use href="#b" x="656"/><use href="#a" x="708"/><use href="#b" x="760"/><use href="#b" x="812"/><use href="#a" x="864"/><use href="#a" x="916"/><use href="#a" x="968"/></g>
<g id="row44" transform="translate(0,2298)"><use href="#c" x="84"/><use href="#c" x="136"/><use href="#c" x="188"/><use href="#d" x="240"/><use href="#d" x="292"/><use href="#c" x="344"/><use href="#d" x="396"/><use href="#d" x="448"/><use href="#d" x="500"/><use href="#d" x="552"/><use href="#d" x="604"/><use href="#d" x="656"/><use href="#c" x="708"/><use href="#d" x="760"/><use href="#d" x="812"/><use href="#c" x="864"/><use href="#c" x="916"/><use href="#c" x="968"/></g>
<g id="row45" transform="translate(0,2350)"><use href="#a" x="84"/><use href="#a" x="136"/><use href="#a" x="188"/><use href="#b" x="240"/><use href="#b" x="292"/><use href="#a" x="344"/><use href="#b" x="396"/><use href="#b" x="448"/><use href="#b" x="500"/><use href="#b" x="552"/><use href="#b" x="604"/><use href="#b" x="656"/><use href="#a" x="708"/><use href="#b" x="760"/><use href="#b" x="812"/><use href="#a" x="864"/><use href="#a" x="916"/><use href="#a" x="968"/></g>
<g id="row46" transform="translate(0,2402)"><use href="#c" x="84"/><use href="#c" x="136"/><use href="#c" x="188"/><use href="#c" x="240"/><use href="#c" x="292"/><use href="#d" x="344"/><use href="#c" x="396"/><use href="#d" x="448"/><use href="#d" x="500"/><use href="#d" x="552"/><use href="#d" x="604"/><use href="#c" x="656"/><use href="#d" x="708"/><use href="#c" x="760"/><use href="#c" x="812"/><use href="#c" x="864"/><use href="#c" x="916"/><use href="#c" x="968"/></g>
<g id="row47" transform="translate(0,2454)"><use href="#a" x="84"/><use href="#a" x="136"/><use href="#a" x="188"/><use href="#a" x="240"/><use href="#a" x="292"/><use href="#a" x="344"/><use href="#b" x="396"/><use href="#a" x="448"/><use href="#b" x="500"/><use href="#b" x="552"/><use href="#a" x="604"/><use href="#b" x="656"/><use href="#a" x="708"/><use href="#a" x="760"/><use href="#a" x="812"/><use href="#a" x="864"/><use href="#a" x="916"/><use href="#a" x="968"/></g>
<g id="row48" transform="translate(0,2506)"><use href="#d" x="84"/><use href="#d" x="136"/><use href="#c" x="188"/><use href="#c" x="240"/><use href="#c" x="292"/><use href="#c" x="344"/><use href="#d" x="396"/><use href="#c" x="448"/><use href="#d" x="500"/><use href="#d" x="552"/><use href="#c" x="604"/><use href="#d" x="656"/><use href="#c" x="708"/><use href="#c" x="760"/><use href="#c" x="812"/><use href="#c" x="864"/><use href="#d" x="916"/><use href="#d" x="968"/></g>
<g id="row49" transform="translate(0,2558)"><use href="#a" x="84"/><use href="#a" x="136"/><use href="#b" x="188"/><use href="#b" x="240"/><use href="#b" x="292"/><use href="#b" x="344"/><use href="#a" x="396"/><use href="#b" x="448"/><use href="#b" x="500"/><use href="#b" x="552"/><use href="#b" x="604"/><use href="#a" x="656"/><use href="#b" x="708"/><use href="#b" x="760"/><use href="#b" x="812"/><use href="#b" x="864"/><use href="#a" x="916"/><use href="#a" x="968"/></g>
<g id="row50" transform="translate(0,2610)"><use href="#c" x="84"/><use href="#c" x="136"/><use href="#c" x="188"/><use href="#c" x="240"/><use href="#c" x="292"/><use href="#c" x="344"/><use href="#d" x="396"/><use href="#d" x="448"/><use href="#d" x="500"/><use href="#d" x="552"/><use href="#d" x="604"/><use href="#d" x="656"/><use href="#c" x="708"/><use href="#c" x="760"/><use href="#c" x="812"/><use href="#c" x="864"/><use href="#c" x="916"/><use href="#c" x="968"/></g>
<g id="row51" transform="translate(0,2662)"><use href="#a" x="84"/><use href="#a" x="136"/><use href="#a" x="188"/><use href="#b" x="240"/><use href="#b" x="292"/><use href="#b" x="344"/><use href="#a" x="396"/><use href="#b" x="448"/><use href="#b" x="500"/><use href="#b" x="552"/><use href="#b" x="604"/><use href="#a" x="656"/><use href="#b" x="708"/><use href="#b" x="760"/><use href="#b" x="812"/><use href="#a" x="864"/><use href="#a" x="916"/><use href="#a" x="968"/></g>
<g id="row52" transform="translate(0,2714)"><use href="#c" x="84"/><use href="#c" x="136"/><use href="#c" x="188"/><use href="#d" x="240"/><use href="#d" x="292"/><use href="#d" x="344"/><use href="#c" x="396"/><use href="#d" x="448"/><use href="#d" x="500"/><use href="#d" x="552"/><use href="#d" x="604"/><use href="#c" x="656"/><use href="#d" x="708"/><use href="#d" x="760"/><use href="#d" x="812"/><use href="#c" x="864"/><use href="#c" x="916"/><use href="#c" x="968"/></g>
<g id="row53" transform="translate(0,2766)"><use href="#a" x="84"/><use href="#b" x="136"/><use href="#b" x="188"/><use href="#a" x="240"/><use href="#a" x="292"/><use href="#a" x="344"/><use href="#b" x="396"/><use href="#a" x="448"/><use href="#b" x="500"/><use href="#b" x="552"/><use href="#a" x="604"/><use href="#b" x="656"/><use href="#a" x="708"/><use href="#a" x="760"/><use href="#a" x="812"/><use href="#b" x="864"/><use href="#b" x="916"/><use href="#a" x="968"/></g>
<g id="row54" transform="translate(0,2818)"><use href="#d" x="84"/><use href="#c" x="136"/><use href="#c" x="188"/><use href="#c" x="240"/><use href="#c" x="292"/><use href="#d" x="344"/><use href="#c" x="396"/><use href="#c" x="448"/><use href="#c" x="500"/><use href="#c" x="552"/><use href="#c" x="604"/><use href="#c" x="656"/><use href="#d" x="708"/><use href="#c" x="760"/><use href="#c" x="812"/><use href="#c" x="864"/><use href="#c" x="916"/><use href="#d" x="968"/></g>
<g id="row55" transform="translate(0,2870)"><use href="#a" x="84"/><use href="#a" x="136"/><use href="#a" x="188"/><use href="#a" x="240"/><use href="#a" x="292"/><use href="#b" x="344"/><use href="#a" x="396"/><use href="#a" x="448"/><use href="#a" x="500"/><use href="#a" x="552"/><use href="#a" x="604"/><use href="#a" x="656"/><use href="#b" x="708"/><use href="#a" x="760"/><use href="#a" x="812"/><use href="#a" x="864"/><use href="#a" x="916"/><use href="#a" x="968"/></g>
<g id="row56" transform="translate(0,2922)"><use href="#c" x="84"/><use href="#c" x="136"/><use href="#c" x="188"/><use href="#c" x="240"/><use href="#c" x="292"/><use href="#d" x="344"/><use href="#c" x="396"/><use href="#c" x="448"/><use href="#c" x="500"/><use href="#c" x="552"/><use href="#c" x="604"/><use href="#c" x="656"/><use href="#d" x="708"/><use href="#c" x="760"/><use href="#c" x="812"/><use href="#c" x="864"/><use href="#c" x="916"/><use href="#c" x="968"/></g>
<g id="row57" transform="translate(0,2974)"><use href="#a" x="84"/><use href="#a" x="136"/><use href="#a" x="188"/><use href="#b" x="240"/><use href="#b" x="292"/><use href="#a" x="344"/><use href="#a" x="396"/><use href="#a" x="448"/><use href="#a" x="500"/><use href="#a" x="552"/><use href="#a" x="604"/><use href="#a" x="656"/><use href="#a" x="708"/><use href="#b" x="760"/><use href="#b" x="812"/><use href="#a" x="864"/><use href="#a" x="916"/><use href="#a" x="968"/></g>
<g id="row58" transform="translate(0,3026)"><use href="#c" x="84"/><use href="#c" x="136"/><use href="#d" x="188"/><use href="#c" x="240"/><use href="#c" x="292"/><use href="#c" x="344"/><use href="#c" x="396"/><use href="#c" x="448"/><use href="#c" x="500"/><use href="#c" x="552"/><use href="#c" x="604"/><use href="#c" x="656"/><use href="#c" x="708"/><use href="#c" x="760"/><use href="#c" x="812"/><use href="#d" x="864"/><use href="#c" x="916"/><use href="#c" x="968"/></g>
<g id="row59" transform="translate(0,3078)"><use href="#a" x="84"/><use href="#a" x="136"/><use href="#b" x="188"/><use href="#a" x="240"/><use href="#a" x="292"/><use href="#a" x="344"/><use href="#a" x="396"/><use href="#a" x="448"/><use href="#a" x="500"/><use href="#a" x="552"/><use href="#a" x="604"/><use href="#a" x="656"/><use href="#a" x="708"/><use href="#a" x="760"/><use href="#a" x="812"/><use href="#b" x="864"/><use href="#a" x="916"/><use href="#a" x="968"/></g>
<g id="row60" transform="translate(0,3130)"><use href="#d" x="84"/><use href="#c" x="136"/><use href="#c" x="188"/><use href="#c" x="240"/><use href="#c" x="292"/><use href="#c" x="344"/><use href="#c" x="396"/><use href="#c" x="448"/><use href="#c" x="500"/><use href="#c" x="552"/><use href="#c" x="604"/><use href="#c" x="656"/><use href="#c" x="708"/><use href="#c" x="760"/><use href="#c" x="812"/><use href="#c" x="864"/><use href="#c" x="916"/><use href="#c" x="968"/></g>
<g id="row61" transform="translate(0,3182)"><use href="#b" x="84"/><use href="#a" x="136"/><use href="#a" x="188"/><use href="#a" x="240"/><use href="#a" x="292"/><use href="#a" x="344"/><use href="#a" x="396"/><use href="#a" x="448"/><use href="#a" x="500"/><use href="#a" x="552"/><use href="#a" x="604"/><use href="#a" x="656"/><use href="#a" x="708"/><use href="#a" x="760"/><use href="#a" x="812"/><use href="#a" x="864"/><use href="#a" x="916"/><use href="#a" x="968"/></g>
<g id="row62" transform="translate(0,3234)"><use href="#d" x="84"/><use href="#c" x="136"/><use href="#c" x="188"/><use href="#c" x="240"/><use href="#c" x="292"/><use href="#c" x="344"/><use href="#c" x="396"/><use href="#c" x="448"/><use href="#c" x="500"/><use href="#c" x="552"/><use href="#c" x="604"/><use href="#c" x="656"/><use href="#c" x="708"/><use href="#c" x="760"/><use href="#c" x="812"/><use href="#c" x="864"/><use href="#c" x="916"/><use href="#c" x="968"/></g>
<g id="row63" transform="translate(0,3286)"><use href="#b" x="84"/><use href="#b" x="136"/><use href="#a" x="188"/><use href="#a" x="240"/><use href="#a" x="292"/><use href="#a" x="344"/><use href="#a" x="396"/><use href="#a" x="448"/><use href="#a" x="500"/><use href="#a" x="552"/><use href="#a" x="604"/><use href="#a" x="656"/><use href="#a" x="708"/><use href="#a" x="760"/><use href="#b" x="812"/><use href="#b" x="864"/><use href="#a" x="916"/><use href="#a" x="968"/></g>
<g id="row64" transform="translate(0,3338)"><use href="#d" x="84"/><use href="#d" x="136"/><use href="#c" x="188"/><use href="#c" x="240"/><use href="#c" x="292"/><use href="#c" x="344"/><use href="#c" x="396"/><use href="#c" x="448"/><use href="#c" x="500"/><use href="#c" x="552"/><use href="#c" x="604"/><use href="#c" x="656"/><use href="#c" x="708"/><use href="#c" x="760"/><use href="#d" x="812"/><use href="#d" x="864"/><use href="#c" x="916"/><use href="#c" x="968"/></g>
<g id="row65" transform="translate(0,3390)"><use href="#b" x="84"/><use href="#a" x="136"/><use href="#b" x="188"/><use href="#b" x="240"/><use href="#a" x="292"/><use href="#a" x="344"/><use href="#a" x="396"/><use href="#a" x="448"/><use href="#a" x="500"/><use href="#a" x="552"/><use href="#a" x="604"/><use href="#a" x="656"/><use href="#a" x="708"/><use href="#b" x="760"/><use href="#a" x="812"/><use href="#a" x="864"/><use href="#a" x="916"/><use href="#a" x="968"/></g>
<g id="row66" transform="translate(0,3442)"><use href="#d" x="84"/><use href="#c" x="136"/><use href="#c" x="188"/><use href="#c" x="240"/><use href="#d" x="292"/><use href="#d" x="344"/><use href="#c" x="396"/><use href="#c" x="448"/><use href="#c" x="500"/><use href="#c" x="552"/><use href="#c" x="604"/><use href="#c" x="656"/><use href="#d" x="708"/><use href="#d" x="760"/><use href="#c" x="812"/><use href="#c" x="864"/><use href="#c" x="916"/><use href="#c" x="968"/></g>
<g id="row67" transform="translate(0,3494)"><use href="#b" x="84"/><use href="#a" x="136"/><use href="#a" x="188"/><use href="#a" x="240"/><use href="#a" x="292"/><use href="#a" x="344"/><use href="#b" x="396"/><use href="#b" x="448"/><use href="#b" x="500"/><use href="#b" x="552"/><use href="#b" x="604"/><use href="#b" x="656"/><use href="#b" x="708"/><use href="#a" x="760"/><use href="#a" x="812"/><use href="#a" x="864"/><use href="#a" x="916"/><use href="#a" x="968"/></g>
<g id="row68" transform="translate(0,3546)"><use href="#d" x="84"/><use href="#c" x="136"/><use href="#c" x="188"/><use href="#c" x="240"/><use href="#c" x="292"/><use href="#c" x="344"/><use href="#d" x="396"/><use href="#d" x="448"/><use href="#d" x="500"/><use href="#d" x="552"/><use href="#d" x="604"/><use href="#d" x="656"/><use href="#d" x="708"/><use href="#c" x="760"/><use href="#c" x="812"/><use href="#c" x="864"/><use href="#c" x="916"/><use href="#c" x="968"/></g>
<g id="row69" transform="translate(0,3598)"><use href="#b" x="84"/><use href="#a" x="136"/><use href="#a" x="188"/><use href="#a" x="240"/><use href="#a" x="292"/><use href="#a" x="344"/><use href="#a" x="396"/><use href="#a" x="448"/><use href="#a" x="500"/><use href="#a" x="552"/><use href="#a" x="604"/><use href="#a" x="656"/><use href="#b" x="708"/><use href="#a" x="760"/><use href="#a" x="812"/><use href="#a" x="864"/><use href="#a" x="916"/><use href="#a" x="968"/></g>
<g id="row70" transform="translate(0,3650)"><use href="#d" x="84"/><use href="#d" x="136"/><use href="#c" x="188"/><use href="#c" x="240"/><use href="#c" x="292"/><use href="#c" x="344"/><use href="#c" x="396"/><use href="#c" x="448"/><use href="#c" x="500"/><use href="#c" x="552"/><use href="#d" x="604"/><use href="#d" x="656"/><use href="#c" x="708"/><use href="#d" x="760"/><use href="#c" x="812"/><use href="#c" x="864"/><use href="#c" x="916"/><use href="#c" x="968"/></g>
<g id="row71" transform="translate(0,3702)"><use href="#b" x="84"/><use href="#a" x="136"/><use href="#a" x="188"/><use href="#a" x="240"/><use href="#a" x="292"/><use href="#a" x="344"/><use href="#a" x="396"/><use href="#a" x="448"/><use href="#a" x="500"/><use href="#a" x="552"/><use href="#a" x="604"/><use href="#a" x="656"/><use href="#a" x="708"/><use href="#a" x="760"/><use href="#a" x="812"/><use href="#a" x="864"/><use href="#a" x="916"/><use href="#a" x="968"/></g>
<g id="row72" transform="translate(0,3754)"><use href="#d" x="84"/><use href="#c" x="136"/><use href="#c" x="188"/><use href="#c" x="240"/><use href="#c" x="292"/><use href="#c" x="344"/><use href="#c" x="396"/><use href="#c" x="448"/><use href="#c" x="500"/><use href="#c" x="552"/><use href="#c" x="604"/><use href="#c" x="656"/><use href="#c" x="708"/><use href="#c" x="760"/><use href="#c" x="812"/><use href="#c" x="864"/><use href="#c" x="916"/><use href="#c" x="968"/></g>
<g id="row73" transform="translate(0,3806)"><use href="#b" x="84"/><use href="#a" x="136"/><use href="#a" x="188"/><use href="#a" x="240"/><use href="#a" x="292"/><use href="#a" x="344"/><use href="#a" x="396"/><use href="#a" x="448"/><use href="#a" x="500"/><use href="#a" x="552"/><use href="#a" x="604"/><use href="#a" x="656"/><use href="#a" x="708"/><use href="#a" x="760"/><use href="#a" x="812"/><use href="#a" x="864"/><use href="#a" x="916"/><use href="#a" x="968"/></g>
<g id="row74" transform="translate(0,3858)"><use href="#d" x="84"/><use href="#c" x="136"/><use href="#c" x="188"/><use href="#c" x="240"/><use href="#c" x="292"/><use href="#c" x="344"/><use href="#c" x="396"/><use href="#c" x="448"/><use href="#c" x="500"/><use href="#c" x="552"/><use href="#c" x="604"/><use href="#c" x="656"/><use href="#c" x="708"/><use href="#c" x="760"/><use href="#c" x="812"/><use href="#c" x="864"/><use href="#c" x="916"/><use href="#c" x="968"/></g>
<g id="row75" transform="translate(0,3910)"><use href="#b" x="84"/><use href="#a" x="136"/><use href="#a" x="188"/><use href="#a" x="240"/><use href="#a" x="292"/><use href="#a" x="344"/><use href="#a" x="396"/><use href="#a" x="448"/><use href="#a" x="500"/><use href="#a" x="552"/><use href="#a" x="604"/><use href="#a" x="656"/><use href="#a" x="708"/><use href="#a" x="760"/><use href="#a" x="812"/><use href="#a" x="864"/><use href="#a" x="916"/><use href="#a" x="968"/></g>
<g id="row76" transform="translate(0,3962)"><use href="#d" x="84"/><use href="#c" x="136"/><use href="#c" x="188"/><use href="#c" x="240"/><use href="#c" x="292"/><use href="#c" x="344"/><use href="#c" x="396"/><use href="#c" x="448"/><use href="#c" x="500"/><use href="#c" x="552"/><use href="#c" x="604"/><use href="#c" x="656"/><use href="#c" x="708"/><use href="#c" x="760"/><use href="#c" x="812"/><use href="#c" x="864"/><use href="#c" x="916"/><use href="#c" x="968"/></g>
<g id="row77" transform="translate(0,4014)"><use href="#b" x="84"/><use href="#a" x="136"/><use href="#a" x="188"/><use href="#a" x="240"/><use href="#a" x="292"/><use href="#a" x="344"/><use href="#a" x="396"/><use href="#a" x="448"/><use href="#a" x="500"/><use href="#a" x="552"/><use href="#a" x="604"/><use href="#a" x="656"/><use href="#a" x="708"/><use href="#a" x="760"/><use href="#a" x="812"/><use href="#a" x="864"/><use href="#a" x="916"/><use href="#a" x="968"/></g>
<g id="row78" transform="translate(0,4066)"><use href="#d" x="84"/><use href="#c" x="136"/><use href="#c" x="188"/><use href="#c" x="240"/><use href="#c" x="292"/><use href="#c" x="344"/><use href="#c" x="396"/><use href="#c" x="448"/><use href="#c" x="500"/><use href="#c" x="552"/><use href="#c" x="604"/><use href="#c" x="656"/><use href="#c" x="708"/><use href="#c" x="760"/><use href="#c" x="812"/><use href="#c" x="864"/><use href="#c" x="916"/><use href="#c" x="968"/></g>
<g id="row79" transform="translate(0,4118)"><use href="#b" x="84"/><use href="#a" x="136"/><use href="#a" x="188"/><use href="#a" x="240"/><use href="#a" x="292"/><use href="#a" x="344"/><use href="#a" x="396"/><use href="#a" x="448"/><use href="#a" x="500"/><use href="#a" x="552"/><use href="#a" x="604"/><use href="#a" x="656"/><use href="#a" x="708"/><use href="#a" x="760"/><use href="#a" x="812"/><use href="#a" x="864"/><use href="#a" x="916"/><use href="#a" x="968"/></g>
<g id="row80" transform="translate(0,4170)"><use href="#d" x="84"/><use href="#c" x="136"/><use href="#c" x="188"/><use href="#c" x="240"/><use href="#c" x="292"/><use href="#c" x="344"/><use href="#c" x="396"/><use href="#c" x="448"/><use href="#c" x="500"/><use href="#c" x="552"/><use href="#c" x="604"/><use href="#c" x="656"/><use href="#c" x="708"/><use href="#c" x="760"/><use href="#c" x="812"/><use href="#c" x="864"/><use href="#c" x="916"/><use href="#c" x="968"/></g>
<g id="row81" transform="translate(0,4222)"><use href="#b" x="84"/><use href="#a" x="136"/><use href="#a" x="188"/><use href="#a" x="240"/><use href="#a" x="292"/><use href="#a" x="344"/><use href="#a" x="396"/><use href="#a" x="448"/><use href="#a" x="500"/><use href="#a" x="552"/><use href="#a" x="604"/><use href="#a" x="656"/><use href="#a" x="708"/><use href="#a" x="760"/><use href="#a" x="812"/><use href="#a" x="864"/><use href="#a" x="916"/><use href="#a" x="968"/></g>
<g id="row82" transform="translate(0,4274)"><use href="#d" x="84"/><use href="#c" x="136"/><use href="#c" x="188"/><use href="#c" x="240"/><use href="#c" x="292"/><use href="#c" x="344"/><use href="#c" x="396"/><use href="#c" x="448"/><use href="#c" x="500"/><use href="#c" x="552"/><use href="#c" x="604"/><use href="#c" x="656"/><use href="#c" x="708"/><use href="#c" x="760"/><use href="#c" x="812"/><use href="#c" x="864"/><use href="#c" x="916"/><use href="#c" x="968"/></g>
<g id="row83" transform="translate(0,4326)"><use href="#b" x="84"/><use href="#a" x="136"/><use href="#a" x="188"/><use href="#a" x="240"/><use href="#a" x="292"/><use href="#a" x="344"/><use href="#a" x="396"/><use href="#a" x="448"/><use href="#a" x="500"/><use href="#a" x="552"/><use href="#a" x="604"/><use href="#a" x="656"/><use href="#a" x="708"/><use href="#a" x="760"/><use href="#a" x="812"/><use href="#a" x="864"/><use href="#a" x="916"/><use href="#a" x="968"/></g>
<g id="row84" transform="translate(0,4378)"><use href="#d" x="84"/><use href="#c" x="136"/><use href="#c" x="188"/><use href="#c" x="240"/><use href="#c" x="292"/><use href="#c" x="344"/><use href="#c" x="396"/><use href="#c" x="448"/><use href="#c" x="500"/><use href="#c" x="552"/><use href="#c" x="604"/><use href="#c" x="656"/><use href="#c" x="708"/><use href="#c" x="760"/><use href="#c" x="812"/><use href="#c" x="864"/><use href="#c" x="916"/><use href="#c" x="968"/></g>
<g id="row85" transform="translate(0,4430)"><use href="#b" x="84"/><use href="#a" x="136"/><use href="#a" x="188"/><use href="#a" x="240"/><use href="#a" x="292"/><use href="#a" x="344"/><use href="#a" x="396"/><use href="#a" x="448"/><use href="#a" x="500"/><use href="#a" x="552"/><use href="#a" x="604"/><use href="#a" x="656"/><use href="#a" x="708"/><use href="#a" x="760"/><use href="#a" x="812"/><use href="#a" x="864"/><use href="#a" x="916"/><use href="#a" x="968"/></g>
<g id="row86" transform="translate(0,4482)"><use href="#d" x="84"/><use href="#c" x="136"/><use href="#c" x="188"/><use href="#c" x="240"/><use href="#c" x="292"/><use href="#c" x="344"/><use href="#c" x="396"/><use href="#c" x="448"/><use href="#c" x="500"/><use href="#c" x="552"/><use href="#c" x="604"/><use href="#c" x="656"/><use href="#c" x="708"/><use href="#c" x="760"/><use href="#c" x="812"/><use href="#c" x="864"/><use href="#c" x="916"/><use href="#c" x="968"/></g>
<g id="row87" transform="translate(0,4534)"><use href="#b" x="84"/><use href="#a" x="136"/><use href="#a" x="188"/><use href="#a" x="240"/><use href="#a" x="292"/><use href="#a" x="344"/><use href="#a" x="396"/><use href="#a" x="448"/><use href="#a" x="500"/><use href="#a" x="552"/><use href="#a" x="604"/><use href="#a" x="656"/><use href="#a" x="708"/><use href="#a" x="760"/><use href="#a" x="812"/><use href="#a" x="864"/><use href="#a" x="916"/><use href="#a" x="968"/></g>
<g id="row88" transform="translate(0,4586)"><use href="#d" x="84"/><use href="#c" x="136"/><use href="#c" x="188"/><use href="#c" x="240"/><use href="#c" x="292"/><use href="#c" x="344"/><use href="#c" x="396"/><use href="#c" x="448"/><use href="#c" x="500"/><use href="#c" x="552"/><use href="#c" x="604"/><use href="#c" x="656"/><use href="#c" x="708"/><use href="#c" x="760"/><use href="#c" x="812"/><use href="#c" x="864"/><use href="#c" x="916"/><use href="#c" x="968"/></g>
<g id="row89" transform="translate(0,4638)"><use href="#b" x="84"/><use href="#a" x="136"/><use href="#a" x="188"/><use href="#a" x="240"/><use href="#a" x="292"/><use href="#a" x="344"/><use href="#a" x="396"/><use href="#a" x="448"/><use href="#a" x="500"/><use href="#a" x="552"/><use href="#a" x="604"/><use href="#a" x="656"/><use href="#a" x="708"/><use href="#a" x="760"/><use href="#a" x="812"/><use href="#a" x="864"/><use href="#a" x="916"/><use href="#a" x="968"/></g>
<g id="row90" transform="translate(0,4690)"><use href="#d" x="84"/><use href="#c" x="136"/><use href="#c" x="188"/><use href="#c" x="240"/><use href="#c" x="292"/><use href="#c" x="344"/><use href="#c" x="396"/><use href="#c" x="448"/><use href="#c" x="500"/><use href="#c" x="552"/><use href="#c" x="604"/><use href="#c" x="656"/><use href="#c" x="708"/><use href="#c" x="760"/><use href="#c" x="812"/><use href="#c" x="864"/><use href="#c" x="916"/><use href="#c" x="968"/></g>
<g id="row91" transform="translate(0,4742)"><use href="#b" x="84"/><use href="#a" x="136"/><use href="#a" x="188"/><use href="#a" x="240"/><use href="#a" x="292"/><use href="#a" x="344"/><use href="#a" x="396"/><use href="#a" x="448"/><use href="#a" x="500"/><use href="#a" x="552"/><use href="#a" x="604"/><use href="#a" x="656"/><use href="#a" x="708"/><use href="#a" x="760"/><use href="#a" x="812"/><use href="#a" x="864"/><use href="#b" x="916"/><use href="#a" x="968"/></g>
<g id="row92" transform="translate(0,4794)"><use href="#d" x="84"/><use href="#c" x="136"/><use href="#d" x="188"/><use href="#d" x="240"/><use href="#c" x="292"/><use href="#c" x="344"/><use href="#c" x="396"/><use href="#c" x="448"/><use href="#c" x="500"/><use href="#c" x="552"/><use href="#c" x="604"/><use href="#c" x="656"/><use href="#d" x="708"/><use href="#c" x="760"/><use href="#c" x="812"/><use href="#c" x="864"/><use href="#d" x="916"/><use href="#c" x="968"/></g>
<g id="row93" transform="translate(0,4846)"><use href="#b" x="84"/><use href="#b" x="136"/><use href="#a" x="188"/><use href="#a" x="240"/><use href="#a" x="292"/><use href="#a" x="344"/><use href="#a" x="396"/><use href="#a" x="448"/><use href="#a" x="500"/><use href="#a" x="552"/><use href="#a" x="604"/><use href="#a" x="656"/><use href="#b" x="708"/><use href="#a" x="760"/><use href="#a" x="812"/><use href="#a" x="864"/><use href="#a" x="916"/><use href="#b" x="968"/></g>
<g id="row94" transform="translate(0,4898)"><use href="#d" x="84"/><use href="#d" x="136"/><use href="#d" x="188"/><use href="#d" x="240"/><use href="#c" x="292"/><use href="#d" x="344"/><use href="#c" x="396"/><use href="#c" x="448"/><use href="#c" x="500"/><use href="#c" x="552"/><use href="#c" x="604"/><use href="#c" x="656"/><use href="#c" x="708"/><use href="#d" x="760"/><use href="#d" x="812"/><use href="#d" x="864"/><use href="#d" x="916"/><use href="#d" x="968"/></g>
</g>
<g id="labels">
<path class="gl" d="M27 114h40m-40 52h40m-40 52h40m-40 52h40m-40 52h40m-40 52h40m-40 52h40m-40 52h40m-40 52h40m-40 52h40m-40 52h40m-40 52h40m-40 52h40m-40 52h40m-40 52h40m-40 52h40m-40 52h40m-40 52h40m-40 52h40m-40 52h40m-40 52h40m-40 52h40m-40 52h40m-40 52h40m-40 52h40m-40 52h40m-40 52h40m-40 52h40m-40 52h40m-40 52h40m-40 52h40m-40 52h40m-40 52h40m-40 52h40m-40 52h40m-40 52h40m-40 52h40m-40 52h40m-40 52h40m-40 52h40m-40 52h40m-40 52h40m-40 52h40m-40 52h40m-40 52h40m-40 52h40m-40 52h40m-40 52h40m-40 52h40m-40 52h40m-40 52h40m-40 52h40m-40 52h40m-40 52h40m-40 52h40m-40 52h40m-40 52h40m-40 52h40m-40 52h40m-40 52h40m-40 52h40m-40 52h40m-40 52h40m-40 52h40m-40 52h40m-40 52h40m-40 52h40m-40 52h40m-40 52h40m-40 52h40m-40 52h40m-40 52h40m-40 52h40m-40 52h40m-40 52h40m-40 52h40m-40 52h40m-40 52h40m-40 52h40m-40 52h40m-40 52h40m-40 52h40m-40 52h40m-40 52h40m-40 52h40m-40 52h40m-40 52h40"/>
<path class="gl" d="M986 62h39m-39 52h39m-39 52h39m-39 52h39m-39 52h39m-39 52h39m-39 52h39m-39 52h39m-39 52h39m-39 52h39m-39 52h39m-39 52h39m-39 52h39m-39 52h39m-39 52h39m-39 52h39m-39 52h39m-39 52h39m-39 52h39m-39 52h39m-39 52h39m-39 52h39m-39 52h39m-39 52h39m-39 52h39m-39 52h39m-39 52h39m-39 52h39m-39 52h39m-39 52h39m-39 52h39m-39 52h39m-39 52h39m-39 52h39m-39 52h39m-39 52h39m-39 52h39m-39 52h39m-39 52h39m-39 52h39m-39 52h39m-39 52h39m-39 52h39m-39 52h39m-39 52h39m-39 52h39m-39 52h39m-39 52h39m-39 52h39m-39 52h39m-39 52h39m-39 52h39m-39 52h39m-39 52h39m-39 52h39m-39 52h39m-39 52h39m-39 52h39m-39 52h39m-39 52h39m-39 52h39m-39 52h39m-39 52h39m-39 52h39m-39 52h39m-39 52h39m-39 52h39m-39 52h39m-39 52h39m-39 52h39m-39 52h39m-39 52h39m-39 52h39m-39 52h39m-39 52h39m-39 52h39m-39 52h39m-39 52h39m-39 52h39m-39 52h39m-39 52h39m-39 52h39m-39 52h39m-39 52h39m-39 52h39m-39 52h39m-39 52h39m-39 52h39m-39 52h39m-39 52h39m-39 52h39"/>
<g class="t" text-anchor="end">
<text x="21" y="66">1</text><text x="21" y="118">2</text><text x="21" y="170">3</text><text x="21" y="222">4</text><text x="21" y="274">5</text><text x="21" y="326">6</text><text x="21" y="378">7</text><text x="21" y="430">8</text><text x="21" y="482">9</text><text x="21" y="534">10</text><text x="21" y="586">11</text><text x="21" y="638">12</text><text x="21" y="690">13</text><text x="21" y="742">14</text><text x="21" y="794">15</text><text x="21" y="846">16</text><text x="21" y="898">17</text><text x="21" y="950">18</text><text x="21" y="1002">19</text><text x="21" y="1054">20</text><text x="21" y="1106">21</text><text x="21" y="1158">22</text><text x="21" y="1210">23</text><text x="21" y="1262">24</text><text x="21" y="1314">25</text><text x="21" y="1366">26</text><text x="21" y="1418">27</text><text x="21" y="1470">28</text><text x="21" y="1522">29</text><text x="21" y="1574">30</text><text x="21" y="1626">31</text><text x="21" y="1678">32</text><text x="21" y="1730">33</text><text x="21" y="1782">34</text><text x="21" y="1834">35</text><text x="21" y="1886">36</text><text x="21" y="1938">37</text><text x="21" y="1990">38</text><text x="21" y="2042">39</text><text x="21" y="2094">40</text><text x="21" y="2146">41</text><text x="21" y="2198">42</text><text x="21" y="2250">43</text><text x="21" y="2302">44</text><text x="21" y="2354">45</text><text x="21" y="2406">46</text><text x="21" y="2458">47</text><text x="21" y="2510">48</text><text x="21" y="2562">49</text><text x="21" y="2614">50</text><text x="21" y="2666">51</text><text x="21" y="2718">52</text><text x="21" y="2770">53</text><text x="21" y="2822">54</text><text x="21" y="2874">55</text><text x="21" y="2926">56</text><text x="21" y="2978">57</text><text x="21" y="3030">58</text><text x="21" y="3082">59</text><text x="21" y="3134">60</text><text x="21" y="3186">61</text><text x="21" y="3238">62</text><text x="21" y="3290">63</text><text x="21" y="3342">64</text><text x="21" y="3394">65</text><text x="21" y="3446">66</text><text x="21" y="3498">67</text><text x="21" y="3550">68</text><text x="21" y="3602">69</text><text x="21" y="3654">70</text><text x="21" y="3706">71</text><text x="21" y="3758">72</text><text x="21" y="3810">73</text><text x="21" y="3862">74</text><text x="21" y="3914">75</text><text x="21" y="3966">76</text><text x="21" y="4018">77</text><text x="21" y="4070">78</text><text x="21" y="4122">79</text><text x="21" y="4174">80</text><text x="21" y="4226">81</text><text x="21" y="4278">82</text><text x="21" y="4330">83</text><text x="21" y="4382">84</text><text x="21" y="4434">85</text><text x="21" y="4486">86</text><text x="21" y="4538">87</text><text x="21" y="4590">88</text><text x="21" y="4642">89</text><text x="21" y="4694">90</text><text x="21" y="4746">91</text><text x="21" y="4798">92</text><text x="21" y="4850">93</text><text x="21" y="4902">94</text>
</g>
<g class="t">
<text x="1031" y="66">1</text><text x="1031" y="118">2</text><text x="1031" y="170">3</text><text x="1031" y="222">4</text><text x="1031" y="274">5</text><text x="1031" y="326">6</text><text x="1031" y="378">7</text><text x="1031" y="430">8</text><text x="1031" y="482">9</text><text x="1031" y="534">10</text><text x="1031" y="586">11</text><text x="1031" y="638">12</text><text x="1031" y="690">13</text><text x="1031" y="742">14</text><text x="1031" y="794">15</text><text x="1031" y="846">16</text><text x="1031" y="898">17</text><text x="1031" y="950">18</text><text x="1031" y="1002">19</text><text x="1031" y="1054">20</text><text x="1031" y="1106">21</text><text x="1031" y="1158">22</text><text x="1031" y="1210">23</text><text x="1031" y="1262">24</text><text x="1031" y="1314">25</text><text x="1031" y="1366">26</text><text x="1031" y="1418">27</text><text x="1031" y="1470">28</text><text x="1031" y="1522">29</text><text x="1031" y="1574">30</text><text x="1031" y="1626">31</text><text x="1031" y="1678">32</text><text x="1031" y="1730">33</text><text x="1031" y="1782">34</text><text x="1031" y="1834">35</text><text x="1031" y="1886">36</text><text x="1031" y="1938">37</text><text x="1031" y="1990">38</text><text x="1031" y="2042">39</text><text x="1031" y="2094">40</text><text x="1031" y="2146">41</text><text x="1031" y="2198">42</text><text x="1031" y="2250">43</text><text x="1031" y="2302">44</text><text x="1031" y="2354">45</text><text x="1031" y="2406">46</text><text x="1031" y="2458">47</text><text x="1031" y="2510">48</text><text x="1031" y="2562">49</text><text x="1031" y="2614">50</text><text x="1031" y="2666">51</text><text x="1031" y="2718">52</text><text x="1031" y="2770">53</text><text x="1031" y="2822">54</text><text x="1031" y="2874">55</text><text x="1031" y="2926">56</text><text x="1031" y="2978">57</text><text x="1031" y="3030">58</text><text x="1031" y="3082">59</text><text x="1031" y="3134">60</text><text x="1031" y="3186">61</text><text x="1031" y="3238">62</text><text x="1031" y="3290">63</text><text x="1031" y="3342">64</text><text x="1031" y="3394">65</text><text x="1031" y="3446">66</text><text x="1031" y="3498">67</text><text x="1031" y="3550">68</text><text x="1031" y="3602">69</text><text x="1031" y="3654">70</text><text x="1031" y="3706">71</text><text x="1031" y="3758">72</text><text x="1031" y="3810">73</text><text x="1031" y="3862">74</text><text x="1031" y="3914">75</text><text x="1031" y="3966">76</text><text x="1031" y="4018">77</text><text x="1031" y="4070">78</text><text x="1031" y="4122">79</text><text x="1031" y="4174">80</text><text x="1031" y="4226">81</text><text x="1031" y="4278">82</text><text x="1031" y="4330">83</text><text x="1031" y="4382">84</text><text x="1031" y="4434">85</text><text x="1031" y="4486">86</text><text x="1031" y="4538">87</text><text x="1031" y="4590">88</text><text x="1031" y="4642">89</text><text x="1031" y="4694">90</text><text x="1031" y="4746">91</text><text x="1031" y="4798">92</text><text x="1031" y="4850">93</text><text x="1031" y="4902">94</text>
</g>
<g font-family="Liberation Sans, Arial, sans-serif" font-size="11" fill="#fff">
<text x="31" y="66">A</text><text x="31" y="4902">A</text>
</g>
<text x="525" y="2485" text-anchor="middle" font-family="Liberation Sans, Arial, sans-serif" font-size="14" textLength="155" lengthAdjust="spacingAndGlyphs" fill="#3a3a3a" stroke="#e0e0e0" stroke-width="2.5" paint-order="stroke">BRACELETBOOK.COM</text>
</g>
</svg>
